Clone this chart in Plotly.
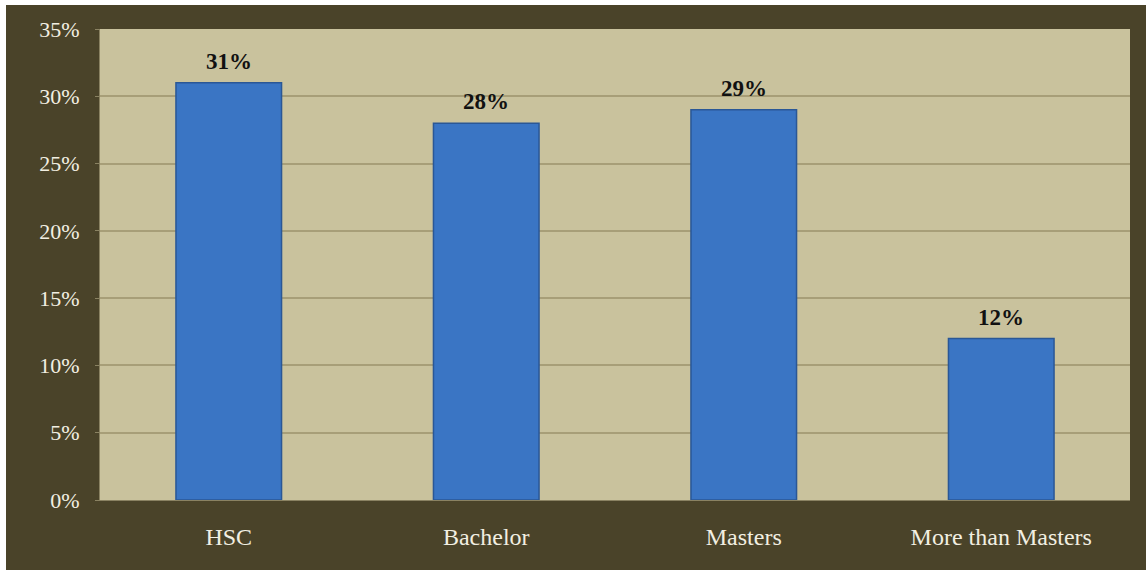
import plotly.graph_objects as go

categories = ["HSC", "Bachelor", "Masters", "More than Masters"]
values = [31, 28, 29, 12]
labels = ["31%", "28%", "29%", "12%"]
tick_vals = [0, 5, 10, 15, 20, 25, 30, 35]
tick_text = ["0%", "5%", "10%", "15%", "20%", "25%", "30%", "35%"]

W, H = 1146, 570
ml, mr, mt, mb = 100, 16, 29, 70
pw, ph = W - ml - mr, H - mt - mb

def px_x(px):
    return (px - ml) / pw

def px_y(py):
    return (H - mb - py) / ph

fig = go.Figure(
    go.Bar(
        x=categories,
        y=values,
        marker=dict(color="#3a75c4", line=dict(color="#2a5796", width=1.5)),
        width=0.41,
    )
)

for c, v, t in zip(categories, values, labels):
    fig.add_annotation(
        x=c, y=v, text=t, showarrow=False, yanchor="bottom", yshift=7,
        font=dict(family="Liberation Serif", size=23, color="#111111", weight="bold"),
    )

fig.update_layout(
    width=W,
    height=H,
    margin=dict(l=ml, r=mr, t=mt, b=mb),
    paper_bgcolor="#4a4329",
    plot_bgcolor="#c9c29d",
    showlegend=False,
    shapes=[
        dict(type="rect", xref="paper", yref="paper",
             x0=px_x(-5), x1=px_x(W + 5), y0=px_y(5), y1=px_y(-5),
             fillcolor="#ffffff", line=dict(width=0), layer="above"),
        dict(type="rect", xref="paper", yref="paper",
             x0=px_x(-5), x1=px_x(6), y0=px_y(H + 5), y1=px_y(-5),
             fillcolor="#ffffff", line=dict(width=0), layer="above"),
    ],
)

fig.update_xaxes(
    showgrid=False,
    tickfont=dict(family="Liberation Serif", size=24, color="#f2efe2"),
    ticks="",
    ticklabelstandoff=15,
    showline=True,
    linecolor="#8a8262",
    linewidth=1,
)
fig.update_yaxes(
    range=[0, 35],
    tickvals=tick_vals,
    ticktext=tick_text,
    showgrid=True,
    gridcolor="#a79e78",
    gridwidth=1.5,
    zeroline=False,
    tickfont=dict(family="Liberation Serif", size=22, color="#f2efe2"),
    ticks="outside",
    ticklen=4,
    tickcolor="#8a8262",
    ticklabelstandoff=11,
    showline=True,
    linecolor="#8a8262",
)

fig.write_html("out.html")
